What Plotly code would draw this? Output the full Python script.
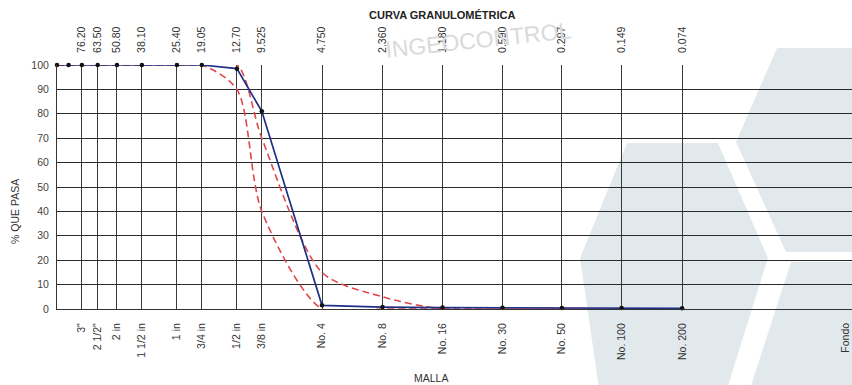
import math
import plotly.graph_objects as go

# Sieve openings (mm) and the percent passing for the sample and the grading band
sizes = [101.6, 88.9, 76.2, 63.5, 50.8, 38.1, 25.4, 19.05, 12.7, 9.525,
         4.75, 2.36, 1.18, 0.59, 0.297, 0.149, 0.074]
passing = [100, 100, 100, 100, 100, 100, 100, 100, 98.5, 81,
           1.5, 0.8, 0.6, 0.5, 0.4, 0.4, 0.3]
lower_limit = [100, 100, 100, 100, 100, 100, 100, 100, 90, 40,
               0, 0, 0, 0, 0, 0, 0]
upper_limit = [100, 100, 100, 100, 100, 100, 100, 100, 100, 70,
               15, 5, 0, 0, 0, 0, 0]

# Sieve series shown on the axes
sieve_mm = [76.2, 63.5, 50.8, 38.1, 25.4, 19.05, 12.7, 9.525,
            4.75, 2.36, 1.18, 0.59, 0.297, 0.149, 0.074]
sieve_mm_text = ["76.20", "63.50", "50.80", "38.10", "25.40", "19.05", "12.70", "9.525",
                 "4.750", "2.360", "1.180", "0.590", "0.297", "0.149", "0.074"]
sieve_names = ['3"', '2 1/2"', "2 in", "1 1/2 in", "1 in", "3/4 in", "1/2 in", "3/8 in",
               "No. 4", "No. 8", "No. 16", "No. 30", "No. 50", "No. 100", "No. 200"]
pan_label = "Fondo"
pan_size = 0.0113

W, H = 852, 385
ML, MR, MT, MB = 57, 0, 65, 76
x_range = [math.log10(101.6), -1.9835]

FONT = "Arial, Liberation Sans, sans-serif"
RED = "#e0474c"
NAVY = "#1f2f86"
TICK_SIZE = 10.5


def px(x, y):
    """Pixel position on the page -> paper coordinates of the plot area."""
    pw = W - ML - MR
    ph = H - MT - MB
    return (x - ML) / pw, (H - MB - y) / ph


def poly_path(points):
    pts = [px(x, y) for x, y in points]
    return "M " + " L ".join(f"{a:.4f},{b:.4f}" for a, b in pts) + " Z"


fig = go.Figure()

# grading band
band_line = dict(color=RED, width=1.6, dash="7px,4px", shape="spline", smoothing=0.8)
fig.add_trace(go.Scatter(x=sizes, y=lower_limit, mode="lines", line=band_line,
                         hoverinfo="skip", cliponaxis=False))
fig.add_trace(go.Scatter(x=sizes, y=upper_limit, mode="lines", line=band_line,
                         hoverinfo="skip", cliponaxis=False))
# sample curve
fig.add_trace(go.Scatter(x=sizes, y=passing, mode="lines+markers",
                         line=dict(color=NAVY, width=1.7),
                         marker=dict(color="#111111", size=4.5),
                         cliponaxis=False))
# carrier for the top (mm) axis
fig.add_trace(go.Scatter(x=sieve_mm, y=[100] * len(sieve_mm), mode="markers",
                         marker=dict(opacity=0), xaxis="x2", hoverinfo="skip"))

# pale hexagon watermark
hex_fill = "#e2e9ec"
hexes = [
    [(627, 143), (718, 143), (768, 258), (725, 395), (600, 395), (580, 258)],
    [(777, 48), (870, 48), (870, 252), (786, 252), (736, 142)],
    [(791, 262), (870, 262), (870, 395), (748, 395)],
]
shapes = [dict(type="path", path=poly_path(h), xref="paper", yref="paper",
               fillcolor=hex_fill, line=dict(width=0), layer="below") for h in hexes]


def note(text, x, y, size, color="#333", angle=0, **kw):
    ax, ay = px(x, y)
    return dict(text=text, x=ax, y=ay, xref="paper", yref="paper", showarrow=False,
                xanchor="center", yanchor="middle", textangle=angle,
                font=dict(family=FONT, size=size, color=color), **kw)


annotations = [
    note("INGEOCONTROL", 478, 40, 23, color="#dadada", angle=-6),
    note("<b>CURVA GRANULOMÉTRICA</b>", 442, 15, 11, color="#222"),
    note("MALLA", 431, 378, 10.5),
    note("% QUE PASA", 15, 212, 10.5, angle=-90),
]
fx, fy = px(0, 321)
annotations.append(dict(text=pan_label, x=math.log10(pan_size), y=fy, xref="x", yref="paper",
                        showarrow=False, textangle=-90, xanchor="center", yanchor="top",
                        font=dict(family=FONT, size=TICK_SIZE, color="#333")))

fig.update_layout(
    width=W, height=H,
    margin=dict(l=ML, r=MR, t=MT, b=MB),
    paper_bgcolor="white", plot_bgcolor="rgba(0,0,0,0)",
    showlegend=False,
    font=dict(family=FONT, size=TICK_SIZE, color="#333"),
    shapes=shapes,
    annotations=annotations,
    xaxis=dict(type="log", range=x_range, tickmode="array",
               tickvals=sieve_mm, ticktext=sieve_names, tickangle=-90,
               ticks="outside", ticklen=9, tickcolor="rgba(0,0,0,0)",
               showgrid=True, gridcolor="#3a3a3a", gridwidth=1,
               showline=True, linecolor="#333", linewidth=1,
               zeroline=False, tickfont=dict(size=TICK_SIZE, color="#333")),
    xaxis2=dict(type="log", range=x_range, overlaying="x", side="top", anchor="y",
                tickmode="array", tickvals=sieve_mm, ticktext=sieve_mm_text,
                tickangle=-90, ticks="outside", ticklen=9, tickcolor="rgba(0,0,0,0)",
                showgrid=False, showline=False, zeroline=False,
                tickfont=dict(size=TICK_SIZE, color="#333")),
    yaxis=dict(range=[0, 100], tickmode="array", tickvals=list(range(0, 101, 10)),
               ticks="outside", ticklen=5, tickcolor="rgba(0,0,0,0)",
               showgrid=True, gridcolor="#2a2a2a", gridwidth=1.2,
               showline=True, linecolor="#333", linewidth=1,
               zeroline=False, tickfont=dict(size=TICK_SIZE, color="#444")),
)

fig.write_html("out.html")
